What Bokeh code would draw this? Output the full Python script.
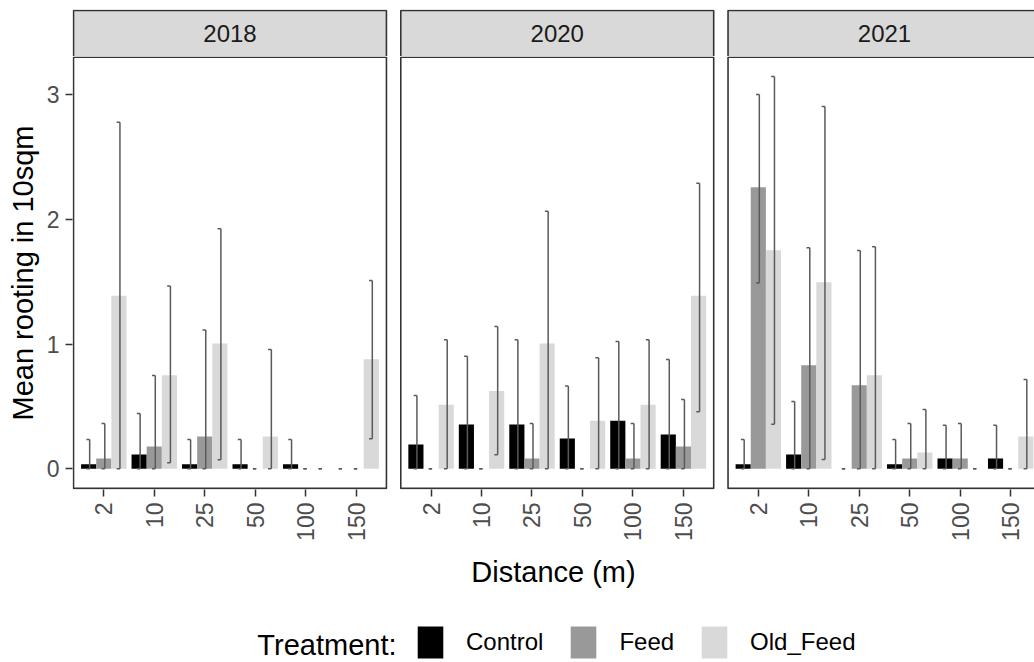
import math
from bokeh.plotting import figure
from bokeh.layouts import column
from bokeh.models import Range1d, FixedTicker, Legend, LegendItem, ColumnDataSource
from bokeh.core.properties import value
from bokeh.embed import file_html
from bokeh.resources import INLINE

# ---------------- data ----------------
years = ["2018", "2020", "2021"]
distances = ["2", "10", "25", "50", "100", "150"]
treatments = ["Control", "Feed", "Old_Feed"]
colors = ["#000000", "#999999", "#d9d9d9"]

# means (year-major: 2018 x6, 2020 x6, 2021 x6)
mean_control = [0.037, 0.115, 0.037, 0.037, 0.037, 0.0,
                0.195, 0.355, 0.355, 0.243, 0.385, 0.275,
                0.037, 0.115, 0.0, 0.037, 0.083, 0.083]
upper_control = [0.235, 0.443, 0.235, 0.235, 0.235, 0.0,
                 0.588, 0.903, 1.034, 0.665, 1.021, 0.876,
                 0.235, 0.540, 0.0, 0.235, 0.350, 0.350]
lower_control = [0.0, 0.0, 0.0, 0.0, 0.0, 0.0,
                 0.0, 0.0, 0.0, 0.0, 0.0, 0.0,
                 0.0, 0.0, 0.0, 0.0, 0.0, 0.0]

mean_feed = [0.083, 0.179, 0.259, 0.0, 0.0, 0.0,
             0.0, 0.0, 0.083, 0.0, 0.083, 0.179,
             2.258, 0.831, 0.671, 0.083, 0.083, 0.0]
upper_feed = [0.363, 0.748, 1.114, 0.0, 0.0, 0.0,
              0.0, 0.0, 0.363, 0.0, 0.363, 0.556,
              3.001, 1.772, 1.750, 0.363, 0.363, 0.0]
lower_feed = [0.0, 0.0, 0.0, 0.0, 0.0, 0.0,
              0.0, 0.0, 0.0, 0.0, 0.0, 0.0,
              1.490, 0.0, 0.0, 0.0, 0.0, 0.0]

mean_old = [1.387, 0.751, 1.005, 0.259, 0.0, 0.879,
            0.513, 0.623, 1.005, 0.385, 0.513, 1.387,
            1.752, 1.497, 0.751, 0.131, 0.0, 0.259]
upper_old = [2.780, 1.465, 1.925, 0.957, 0.0, 1.510,
             1.034, 1.141, 2.066, 0.890, 1.034, 2.290,
             3.147, 2.905, 1.780, 0.476, 0.0, 0.716]
lower_old = [0.0, 0.048, 0.072, 0.0, 0.0, 0.240,
             0.0, 0.112, 0.0, 0.0, 0.0, 0.457,
             0.358, 0.075, 0.0, 0.0, 0.0, 0.0]

means = [mean_control, mean_feed, mean_old]
uppers = [upper_control, upper_feed, upper_old]
lowers = [lower_control, lower_feed, lower_old]

# ---------------- layout constants ----------------
FONT = "Liberation Sans"
n_cat = len(distances)
expand = 0.6
panel_w = n_cat - 1 + 2 * expand          # 6.2 category units
panel_step = 6.484                          # panel width + gap
dodge = 0.3
x_range = Range1d(-0.02, 19.04)
y_lo, y_hi = -0.157, 3.30                   # ggplot panel range
y_frame_top = 3.3064
strip_top = 3.675
ERR_COLOR = "#5a5a5a"
ERR_WIDTH = 1.5

offsets = [k * panel_step for k in range(len(years))]
lefts = offsets
rights = [o + panel_w for o in offsets]

# ---------------- strip figure ----------------
ps = figure(width=1034, height=56, output_backend="svg", toolbar_location=None,
            x_range=x_range, y_range=Range1d(y_frame_top, y_frame_top + 47 / 124.7),
            x_axis_type=None, y_axis_type=None,
            min_border_left=72, min_border_right=0, min_border_top=9, min_border_bottom=0)
ps.outline_line_color = None
ps.quad(left=lefts, right=rights, bottom=[y_hi] * 3, top=[strip_top] * 3,
        fill_color="#d9d9d9", line_color="#333333", line_width=1.6)
ps.text(x=[o + panel_w / 2 for o in offsets], y=[(y_hi + strip_top) / 2] * 3, text=years,
        text_font=value(FONT), text_font_size="24px", text_color="#1a1a1a",
        text_align="center", text_baseline="middle")

# ---------------- main figure ----------------
p = figure(width=1034, height=544, output_backend="svg", toolbar_location=None,
           x_range=x_range, y_range=Range1d(-0.166, y_frame_top),
           min_border_left=72, min_border_right=0, min_border_top=0, min_border_bottom=111)
p.outline_line_color = None
p.xgrid.grid_line_color = None
p.ygrid.grid_line_color = None

p.quad(left=lefts, right=rights, bottom=[y_lo] * 3, top=[y_hi] * 3,
       fill_color=None, line_color="#333333", line_width=1.6)

renderers = []
for j, t in enumerate(treatments):
    xs, tops, his, los = [], [], [], []
    for k in range(len(years)):
        for i in range(n_cat):
            idx = k * n_cat + i
            xs.append(offsets[k] + expand + i + (j - 1) * dodge)
            tops.append(means[j][idx])
            his.append(uppers[j][idx])
            los.append(lowers[j][idx])
    src = ColumnDataSource(dict(x=xs, top=tops, hi=his, lo=los,
                                xe=[x + 0.02 for x in xs], xc=[x - 0.045 for x in xs]))
    r = p.vbar(x="x", top="top", bottom=0, width=dodge, source=src,
               fill_color=colors[j], line_color=None)
    renderers.append(r)

for r in renderers:
    src = r.data_source
    p.segment(x0="xe", y0="lo", x1="xe", y1="hi", source=src, line_color=ERR_COLOR, line_width=ERR_WIDTH)
    p.segment(x0="xc", y0="hi", x1="xe", y1="hi", source=src, line_color=ERR_COLOR, line_width=ERR_WIDTH)
    p.segment(x0="xc", y0="lo", x1="xe", y1="lo", source=src, line_color=ERR_COLOR, line_width=ERR_WIDTH)

tick_pos, tick_lab = [], {}
for k in range(len(years)):
    for i, d in enumerate(distances):
        pos = round(offsets[k] + expand + i, 4)
        tick_pos.append(pos)
        tick_lab[pos] = d
xa = p.xaxis[0]
xa.ticker = FixedTicker(ticks=tick_pos)
xa.major_label_overrides = tick_lab
xa.major_label_orientation = math.pi / 2
ya = p.yaxis[0]
ya.ticker = FixedTicker(ticks=[0, 1, 2, 3])
for ax in (xa, ya):
    ax.axis_line_color = None
    ax.major_tick_in = 0
    ax.major_tick_out = 7
    ax.major_tick_line_color = "#333333"
    ax.major_tick_line_width = 1.5
    ax.minor_tick_line_color = None
    ax.major_label_text_font = FONT
    ax.major_label_text_font_size = "23px"
    ax.major_label_text_color = "#4d4d4d"
    ax.major_label_standoff = 6
    ax.axis_label_text_font = FONT
    ax.axis_label_text_font_size = "29px"
    ax.axis_label_text_font_style = "normal"
    ax.axis_label_text_color = "#000000"
xa.axis_label = "Distance (m)"
xa.axis_label_standoff = 12
ya.axis_label = "Mean rooting in 10sqm"
ya.axis_label_standoff = 5

# ---------------- legend figure (pixel-unit ranges) ----------------
pl = figure(width=1034, height=62, output_backend="svg", toolbar_location=None,
            x_range=Range1d(72, 1034), y_range=Range1d(0, 62),
            x_axis_type=None, y_axis_type=None,
            min_border_left=72, min_border_right=0, min_border_top=0, min_border_bottom=0)
pl.outline_line_color = None
# key renderers: one zero-height bar each, outside the visible range (legend swatches only)
key_renderers = [pl.vbar(x=[0], top=[0], bottom=0, width=1, fill_color=c, line_color=None)
                 for c in colors]
legend = Legend(items=[LegendItem(label=t, renderers=[r]) for t, r in zip(treatments, key_renderers)],
                orientation="horizontal", location=(342, 0),
                glyph_width=32, glyph_height=40, label_standoff=20, spacing=24,
                label_text_font=FONT, label_text_font_size="24px", label_text_color="#000000",
                padding=0, margin=0, border_line_color=None, background_fill_alpha=0)
pl.add_layout(legend, "center")
pl.text(x=[396], y=[18], text=["Treatment:"], text_align="right", text_baseline="middle",
        text_font=value(FONT), text_font_size="29px", text_color="#000000")

layout = column(ps, p, pl, spacing=0)
open("out.html", "w").write(file_html(layout, INLINE))
